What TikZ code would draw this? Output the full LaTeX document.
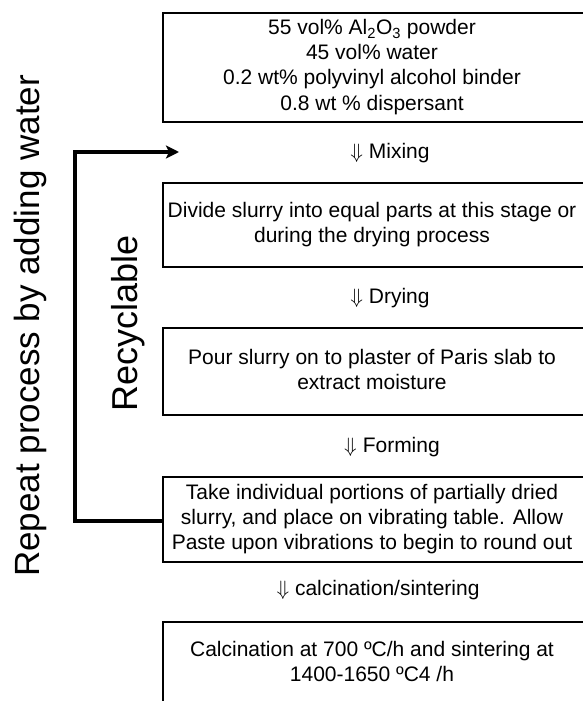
\documentclass[tikz,border=0pt]{standalone}
\usepackage{fontspec}
\setmainfont{Liberation Sans}
\usetikzlibrary{arrows.meta}
\newcommand{\boxlines}[1]{\begin{tabular}{@{}c@{}}#1\end{tabular}\hspace*{42pt}}
\begin{document}
\begin{tikzpicture}[x=1pt,y=-1pt,
  stepbox/.style={minimum width=460pt, inner sep=0pt,
     font=\fontsize{21}{25}\selectfont},
  boxline/.style={draw=black, line width=2.4pt, line join=miter},
  steplabel/.style={font=\fontsize{21}{25}\selectfont, inner sep=0pt},
  sidelabel/.style={rotate=90, anchor=base, inner sep=0pt},
  loopline/.style={line width=3.6pt, -{Stealth[length=13pt,width=13pt,inset=3pt]}}]
\useasboundingbox (0,0) rectangle (583,701);
\node[stepbox, minimum height=109pt] (b1) at (393,67.5)
  {\boxlines{55 vol\% Al\textsubscript{2}O\textsubscript{3} powder\\45 vol\% water\\0.2 wt\% polyvinyl alcohol binder\\0.8 wt \% dispersant}};
\node[steplabel] (l1) at (390,153) {$\Downarrow$ Mixing};
\node[stepbox, minimum height=84pt] (b2) at (393,225)
  {\boxlines{Divide slurry into equal parts at this stage or\\during the drying process}};
\node[steplabel] (l2) at (390,298) {$\Downarrow$ Drying};
\node[stepbox, minimum height=87pt] (b3) at (393,371.5)
  {\boxlines{Pour slurry on to plaster of Paris slab to\\extract moisture}};
\node[steplabel] (l3) at (392,447) {$\Downarrow$ Forming};
\node[stepbox, minimum height=85pt] (b4) at (393,519.5)
  {\boxlines{Take individual portions of partially dried\\slurry, and place on vibrating table. Allow\\Paste upon vibrations to begin to round out}};
\node[steplabel] (l4) at (378,590) {$\Downarrow$ calcination/sintering};
\node[stepbox, minimum height=84pt] (b5) at (393,664)
  {\boxlines{Calcination at 700 ºC/h and sintering at\\1400-1650 ºC4 /h}};
\foreach \b in {b1,b2,b3,b4,b5}
  \draw[boxline] (\b.north west -| 583,0) -- (\b.north west) -- (\b.south west) -- (\b.south west -| 583,0);
\node[sidelabel, font=\fontsize{35}{40}\selectfont] (rep) at (39,326) {Repeat process by adding water};
\node[sidelabel, font=\fontsize{36}{40}\selectfont] (rec) at (137,323) {Recyclable};
\coordinate (tip) at (179,152);
\draw[loopline] (b4.west |- 0,521) -- (75,521) -- (75,152) -- (tip);
\end{tikzpicture}
\end{document}
